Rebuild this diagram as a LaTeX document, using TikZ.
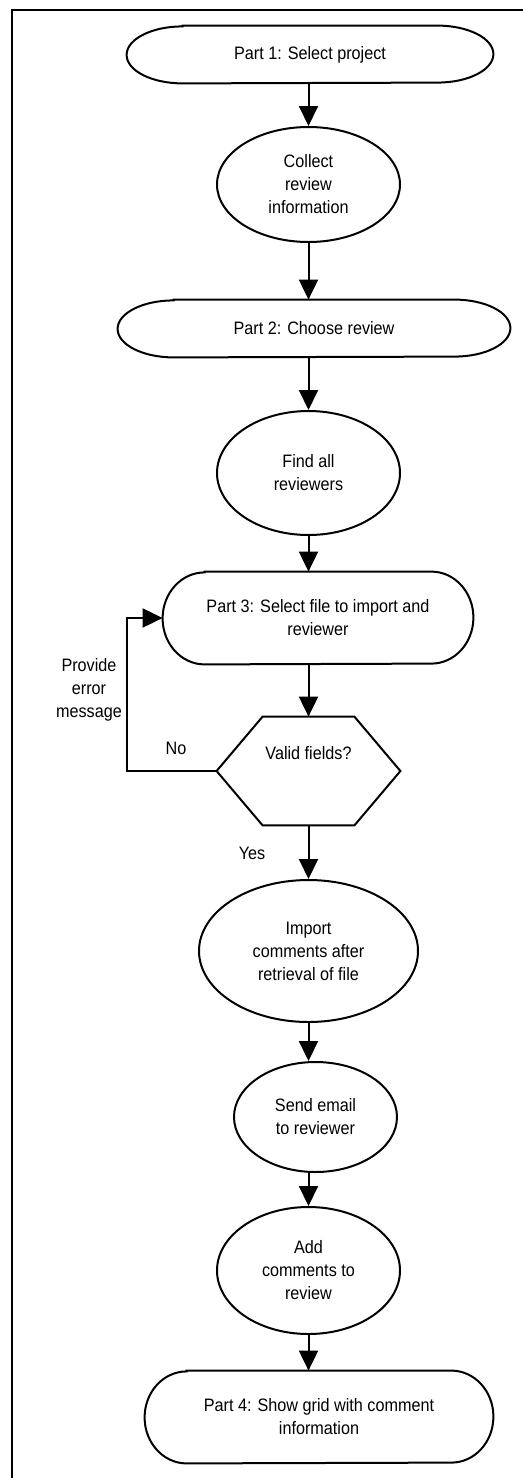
\documentclass[tikz,border=0pt]{standalone}
\usepackage{fontspec}
\setmainfont{Liberation Sans}[FakeStretch=0.9]
\usetikzlibrary{arrows.meta,shapes.geometric}

\begin{document}
\begin{tikzpicture}[x=0.5pt,y=0.5pt,
    every node/.style={font=\fontsize{9}{11.5}\selectfont,align=center,inner sep=0pt},
    term/.style={minimum height=28.5pt},
    bigterm/.style={minimum height=46pt},
    oval/.style={ellipse,draw,line width=1pt},
    test/.style={minimum width=91.5pt,minimum height=54pt,text height=6.5pt,text depth=18.5pt},
    flow/.style={line width=1pt,-{Triangle[width=9.5pt,length=10pt]}},
    outline/.style={line width=1pt}]
  \useasboundingbox (0,0) rectangle (523,-1478);
  % frame, cut at the right and bottom
  \draw[line width=0.8pt] (523,-10) -- (12,-10) -- (12,-1478);
  % Parts and steps
  \node[term,minimum width=183pt]      (p1)      at (310,-54.5)    {Part 1: Select project};
  \node[oval,minimum width=91.5pt,minimum height=57.5pt] (collect) at (308.5,-184.5) {Collect\\review\\information};
  \node[term,minimum width=196pt]      (p2)      at (314,-328.5)   {Part 2: Choose review};
  \node[oval,minimum width=91.5pt,minimum height=62pt]   (find)    at (308.5,-473)   {Find all\\reviewers};
  \node[bigterm,minimum width=155pt]   (p3)      at (318,-618)     {Part 3: Select file to import and\\reviewer};
  \node[test]                          (valid)   at (308.5,-771)   {Valid fields?};
  \node[oval,minimum width=109.5pt,minimum height=71pt]  (import)  at (308.5,-951)   {Import\\comments after\\retrieval of file};
  \node[oval,minimum width=81.5pt,minimum height=55pt]   (send)    at (315.5,-1117)  {Send email\\to reviewer};
  \node[oval,minimum width=91.5pt,minimum height=63.5pt] (add)     at (308.5,-1270.5){Add\\comments to\\review};
  \node[bigterm,minimum width=174pt]   (p4)      at (319,-1417)    {Part 4: Show grid with comment\\information};
  % labels on the loop
  \node (errmsg) at (89,-690)  {Provide\\error\\message};
  \node (no)     at (176,-748) {No};
  \node (yes)    at (252,-853) {Yes};
  % outlines of the parts
  \foreach \nd/\rx/\ry in {p1/28/14.25, p2/28/14.25, p3/21/23, p4/21/23}
    \draw[outline] ([xshift=\rx pt]\nd.north west) -- ([xshift=-\rx pt]\nd.north east)
      arc[start angle=90,end angle=-90,x radius=\rx pt,y radius=\ry pt]
      -- ([xshift=\rx pt]\nd.south west)
      arc[start angle=270,end angle=90,x radius=\rx pt,y radius=\ry pt] -- cycle;
  \draw[outline] (valid.west) -- ([xshift=23pt]valid.north west) -- ([xshift=-23pt]valid.north east)
    -- (valid.east) -- ([xshift=-23pt]valid.south east) -- ([xshift=23pt]valid.south west) -- cycle;
  % connectors
  \draw[flow] (p1.south -| collect.north) -- (collect.north);
  \draw[flow] (collect.south) -- (collect.south |- p2.north);
  \draw[flow] (collect.south |- p2.south) -- (find.north);
  \draw[flow] (find.south) -- (find.south |- p3.north);
  \draw[flow] (find.south |- p3.south) -- (valid.north);
  \draw[flow] (valid.south) -- (import.north);
  \draw[flow] (import.south) -- (import.south |- send.north);
  \draw[flow] (add.north |- send.south) -- (add.north);
  \draw[flow] (add.south) -- (add.south |- p4.north);
  \draw[flow] (valid.west) -- ++(-90,0) |- (p3.west);
\end{tikzpicture}
\end{document}
